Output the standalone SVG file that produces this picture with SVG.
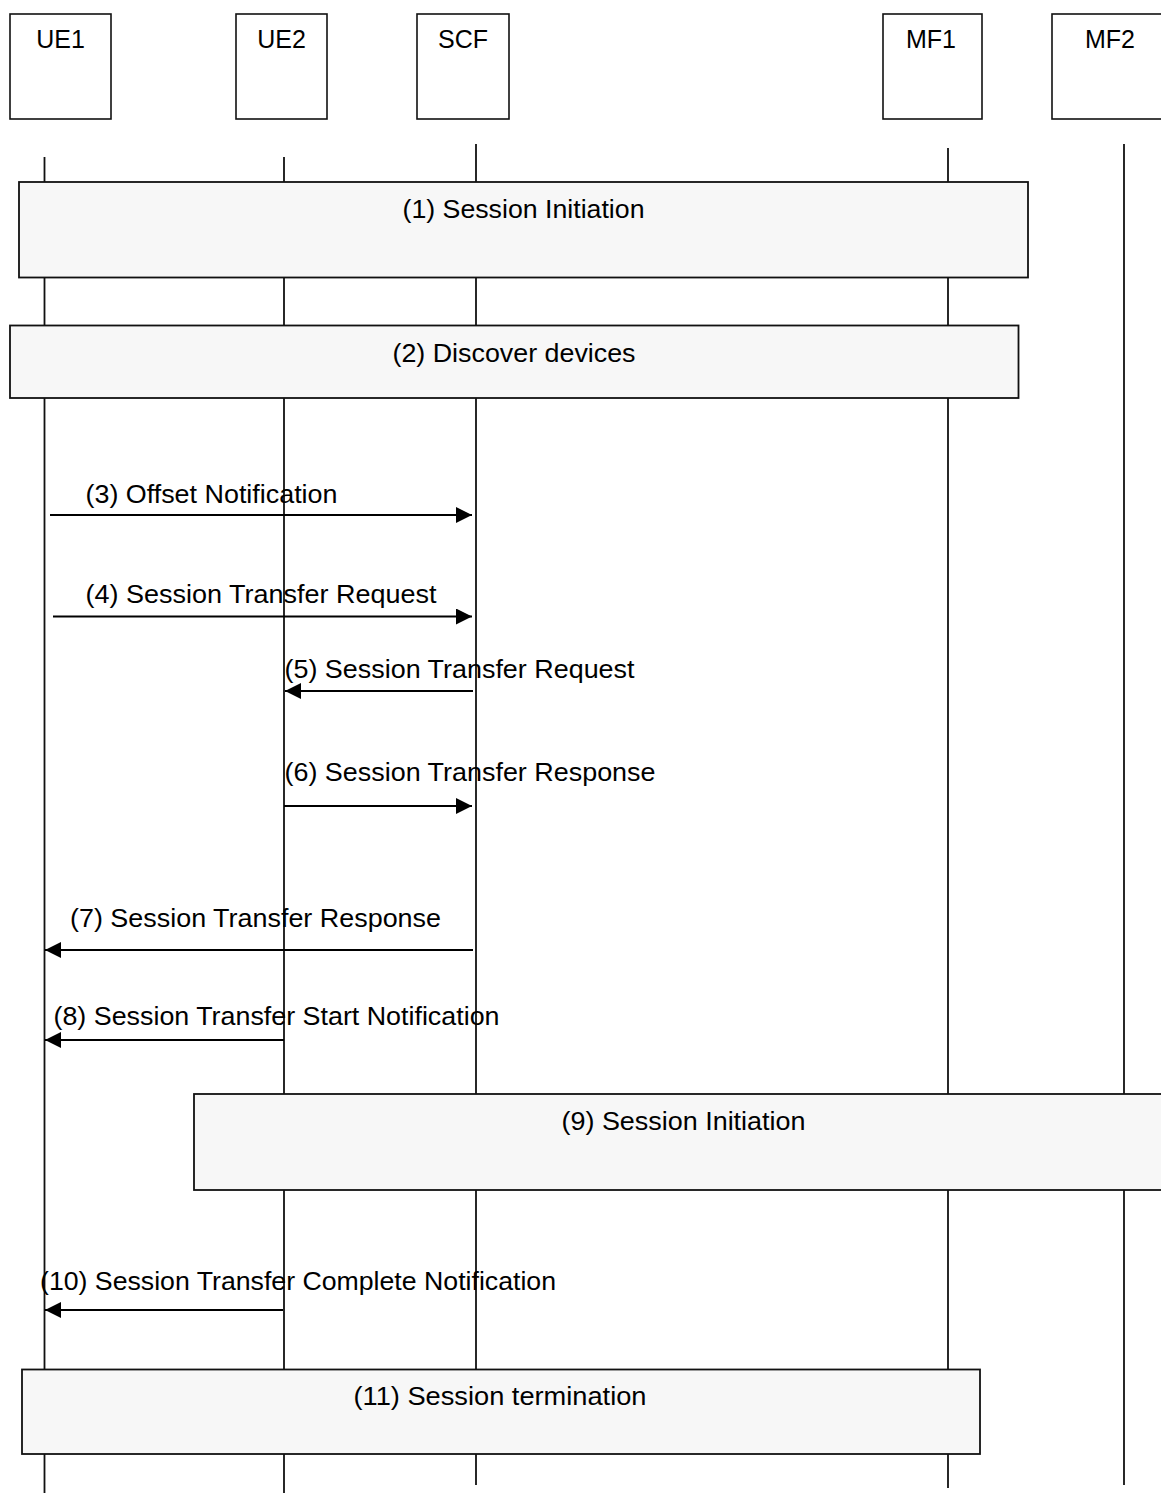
<svg xmlns="http://www.w3.org/2000/svg" width="1161" height="1493" viewBox="0 0 1161 1493">
  <style>
    .hdr { fill: #ffffff; stroke: #111111; stroke-width: 1.6; }
    .life { stroke: #111111; stroke-width: 1.8; fill: none; }
    .blk { fill: #f7f7f7; stroke: #111111; stroke-width: 1.8; }
    .msg { stroke: #000000; stroke-width: 2; fill: none; marker-end: url(#arr); }
    text { font-family: "Liberation Sans", Arial, sans-serif; font-size: 25px; fill: #000000; }
    .c { text-anchor: middle; }
  </style>
  <defs>
    <marker id="arr" markerUnits="userSpaceOnUse" markerWidth="16" markerHeight="16" refX="16" refY="8" orient="auto">
      <path d="M0,0 L16,8 L0,16 Z" fill="#000000"/>
    </marker>
  </defs>

  <!-- lifelines -->
  <g id="lifelines">
    <line class="life" x1="44.5" y1="157" x2="44.5" y2="1493"/>
    <line class="life" x1="284" y1="157" x2="284" y2="1493"/>
    <line class="life" x1="476" y1="144" x2="476" y2="1485"/>
    <line class="life" x1="948" y1="148" x2="948" y2="1488"/>
    <line class="life" x1="1124" y1="144" x2="1124" y2="1485"/>
  </g>

  <!-- participants -->
  <g id="UE1">
    <rect class="hdr" x="10" y="14" width="101" height="105"/>
    <text class="c" x="60.5" y="48">UE1</text>
  </g>
  <g id="UE2">
    <rect class="hdr" x="236" y="14" width="91" height="105"/>
    <text class="c" x="281.5" y="48">UE2</text>
  </g>
  <g id="SCF">
    <rect class="hdr" x="417" y="14" width="92" height="105"/>
    <text class="c" x="463" y="48">SCF</text>
  </g>
  <g id="MF1">
    <rect class="hdr" x="883" y="14" width="99" height="105"/>
    <text class="c" x="931" y="48">MF1</text>
  </g>
  <g id="MF2">
    <rect class="hdr" x="1052" y="14" width="118" height="105"/>
    <text class="c" x="1110" y="48">MF2</text>
  </g>

  <!-- procedure blocks -->
  <g id="step1">
    <rect class="blk" x="19" y="182" width="1009" height="95.5"/>
    <text class="c" x="523.5" y="218" textLength="242" lengthAdjust="spacingAndGlyphs">(1) Session Initiation</text>
  </g>
  <g id="step2">
    <rect class="blk" x="10" y="325.5" width="1008.5" height="72.5"/>
    <text class="c" x="514" y="362" textLength="243" lengthAdjust="spacingAndGlyphs">(2) Discover devices</text>
  </g>
  <g id="step9">
    <rect class="blk" x="194" y="1094" width="985" height="96"/>
    <text class="c" x="683.5" y="1130" textLength="244" lengthAdjust="spacingAndGlyphs">(9) Session Initiation</text>
  </g>
  <g id="step11">
    <rect class="blk" x="22" y="1369.5" width="958" height="84.5"/>
    <text class="c" x="500" y="1405" textLength="293" lengthAdjust="spacingAndGlyphs">(11) Session termination</text>
  </g>

  <!-- messages -->
  <g id="connectors">
    <line class="msg" x1="50" y1="515" x2="472" y2="515"/>
    <line class="msg" x1="53" y1="616.5" x2="472" y2="616.5"/>
    <line class="msg" x1="473" y1="691" x2="285" y2="691"/>
    <line class="msg" x1="284" y1="806" x2="472" y2="806"/>
    <line class="msg" x1="473" y1="950" x2="45" y2="950"/>
    <line class="msg" x1="284" y1="1040" x2="45" y2="1040"/>
    <line class="msg" x1="283" y1="1310" x2="45" y2="1310"/>
  </g>

  <g id="labels">
    <text x="85.5" y="503" textLength="252" lengthAdjust="spacingAndGlyphs">(3) Offset Notification</text>
    <text x="85.5" y="603" textLength="351" lengthAdjust="spacingAndGlyphs">(4) Session Transfer Request</text>
    <text x="284.5" y="678" textLength="350" lengthAdjust="spacingAndGlyphs">(5) Session Transfer Request</text>
    <text x="284.5" y="781" textLength="371" lengthAdjust="spacingAndGlyphs">(6) Session Transfer Response</text>
    <text x="70" y="927" textLength="371" lengthAdjust="spacingAndGlyphs">(7) Session Transfer Response</text>
    <text x="53.5" y="1025" textLength="446" lengthAdjust="spacingAndGlyphs">(8) Session Transfer Start Notification</text>
    <text x="40" y="1290" textLength="516" lengthAdjust="spacingAndGlyphs">(10) Session Transfer Complete Notification</text>
  </g>
</svg>
